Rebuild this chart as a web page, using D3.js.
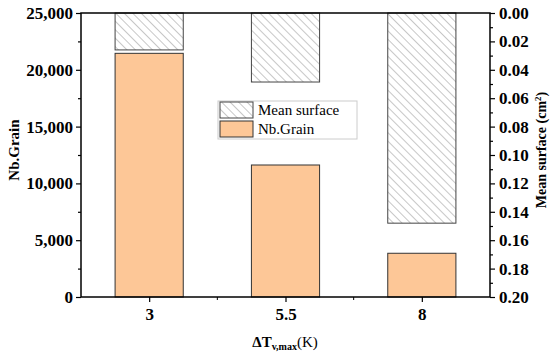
<!DOCTYPE html>
<html><head><meta charset="utf-8">
<script src="https://cdn.jsdelivr.net/npm/d3@7"></script>
<style>body{margin:0;background:#fff}svg{display:block}
svg text{font-family:"Liberation Serif","Times New Roman","DejaVu Serif",serif !important}</style>
</head><body>
<svg id="c" width="550" height="357"></svg>
<script>
const categories = ["3", "5.5", "8"];
const nbGrain = [21450, 11620, 3850];
const meanSurface = [0.026, 0.0486, 0.148];
const leftTicks = [0, 5000, 10000, 15000, 20000, 25000];
const rightTicks = [0, 0.02, 0.04, 0.06, 0.08, 0.10, 0.12, 0.14, 0.16, 0.18, 0.20];
const legendLabels = ["Mean surface", "Nb.Grain"];

const svg = d3.select("#c");
const L = 81, R = 490, T = 13, B = 297;
const SERIF = '"Liberation Serif","Times New Roman",serif';

const defs = svg.append("defs");
const pat = defs.append("pattern").attr("id","hatch").attr("patternUnits","userSpaceOnUse")
  .attr("width",6).attr("height",6).attr("patternTransform","rotate(-45)");
pat.append("rect").attr("width",6).attr("height",6).attr("fill","#fff");
pat.append("line").attr("x1",0).attr("y1",0).attr("x2",0).attr("y2",6)
  .attr("stroke","#999").attr("stroke-width",1.1);

const x = d3.scaleBand().domain(categories).range([L,R]).paddingInner(0.5).paddingOuter(0.25);
const yL = d3.scaleLinear().domain([0,25000]).range([B,T]);
const yR = d3.scaleLinear().domain([0,0.2]).range([T,B]);

// bars
svg.append("g").selectAll("rect").data(categories).join("rect")
  .attr("x", d=>x(d)).attr("width", x.bandwidth())
  .attr("y", (d,i)=>yL(nbGrain[i])).attr("height",(d,i)=>B-yL(nbGrain[i]))
  .attr("fill","#fdc797").attr("stroke","#333").attr("stroke-width",1);
svg.append("g").selectAll("rect").data(categories).join("rect")
  .attr("x", d=>x(d)).attr("width", x.bandwidth())
  .attr("y", T).attr("height",(d,i)=>yR(meanSurface[i])-T)
  .attr("fill","url(#hatch)").attr("stroke","#444").attr("stroke-width",1);

// axes
const tickFont = g => g.selectAll("text").style("font-family",SERIF).style("font-size","17px").style("font-weight","bold").attr("fill","#000");
const gl = svg.append("g").attr("transform",`translate(${L},0)`)
  .call(d3.axisLeft(yL).tickValues(leftTicks).tickFormat(d3.format(",")).tickSize(5).tickPadding(3));
gl.attr("font-family",SERIF).call(tickFont); gl.select(".domain").remove();
svg.append("g").attr("transform",`translate(${L},0)`)
  .call(d3.axisLeft(yL).tickValues(d3.range(2500,25000,5000)).tickFormat("").tickSize(3)).select(".domain").remove();

const gr = svg.append("g").attr("transform",`translate(${R},0)`)
  .call(d3.axisRight(yR).tickValues(rightTicks).tickFormat(d3.format(".2f")).tickSize(5).tickPadding(4));
gr.attr("font-family",SERIF).call(tickFont); gr.select(".domain").remove();
svg.append("g").attr("transform",`translate(${R},0)`)
  .call(d3.axisRight(yR).tickValues(d3.range(0.01,0.2,0.02)).tickFormat("").tickSize(3)).select(".domain").remove();

const xc = d3.scalePoint().domain(categories).range([x(categories[0])+x.bandwidth()/2, x(categories[2])+x.bandwidth()/2]);
const gx = svg.append("g").attr("transform",`translate(0,${B})`)
  .call(d3.axisBottom(xc).tickSize(5).tickPadding(6));
gx.attr("font-family",SERIF).call(tickFont); gx.select(".domain").remove();
const mids = [ (xc("3")+xc("5.5"))/2, (xc("5.5")+xc("8"))/2 ];
svg.append("g").selectAll("line").data(mids).join("line")
  .attr("x1",d=>d).attr("x2",d=>d).attr("y1",B).attr("y2",B+3).attr("stroke","#000");
svg.selectAll(".tick line").attr("stroke","#000").attr("stroke-width",1.2);

// frame
svg.append("rect").attr("x",L).attr("y",T).attr("width",R-L).attr("height",B-T)
  .attr("fill","none").attr("stroke","#000").attr("stroke-width",1.5);

// titles
svg.append("text").attr("transform",`translate(19,150) rotate(-90)`).attr("text-anchor","middle")
  .attr("font-size",15).attr("font-weight","bold").text("Nb.Grain");
const rt = svg.append("text").attr("transform",`translate(546,150) rotate(-90)`).attr("text-anchor","middle")
  .attr("font-size",14).attr("font-weight","bold");
rt.append("tspan").text("Mean surface (cm");
rt.append("tspan").attr("font-size",9).attr("dy",-5).text("2");
rt.append("tspan").attr("dy",5).text(")");

const xt = svg.append("text").attr("x",285).attr("y",347).attr("text-anchor","middle")
  .attr("font-size",15);
xt.append("tspan").attr("font-weight","bold").text("ΔT");
xt.append("tspan").attr("font-weight","bold").attr("font-size",10).attr("dy",3).text("v,max");
xt.append("tspan").attr("dy",-3).text("(K)");

// legend
const lg = svg.append("g");
lg.append("rect").attr("x",218).attr("y",101).attr("width",139).attr("height",38)
  .attr("fill","#fff").attr("stroke","#ccc").attr("stroke-width",1);
const fills = ["url(#hatch)","#fdc797"];
const strokes = ["#444","#333"];
legendLabels.forEach((t,i)=>{
  const yy = 102 + i*19;
  lg.append("rect").attr("x",220).attr("y",yy).attr("width",33).attr("height",16)
    .attr("fill",fills[i]).attr("stroke",strokes[i]).attr("stroke-width",1);
  lg.append("text").attr("x",258).attr("y",yy+13).attr("font-size",15)
    .text(t);
});
</script>
</body></html>
